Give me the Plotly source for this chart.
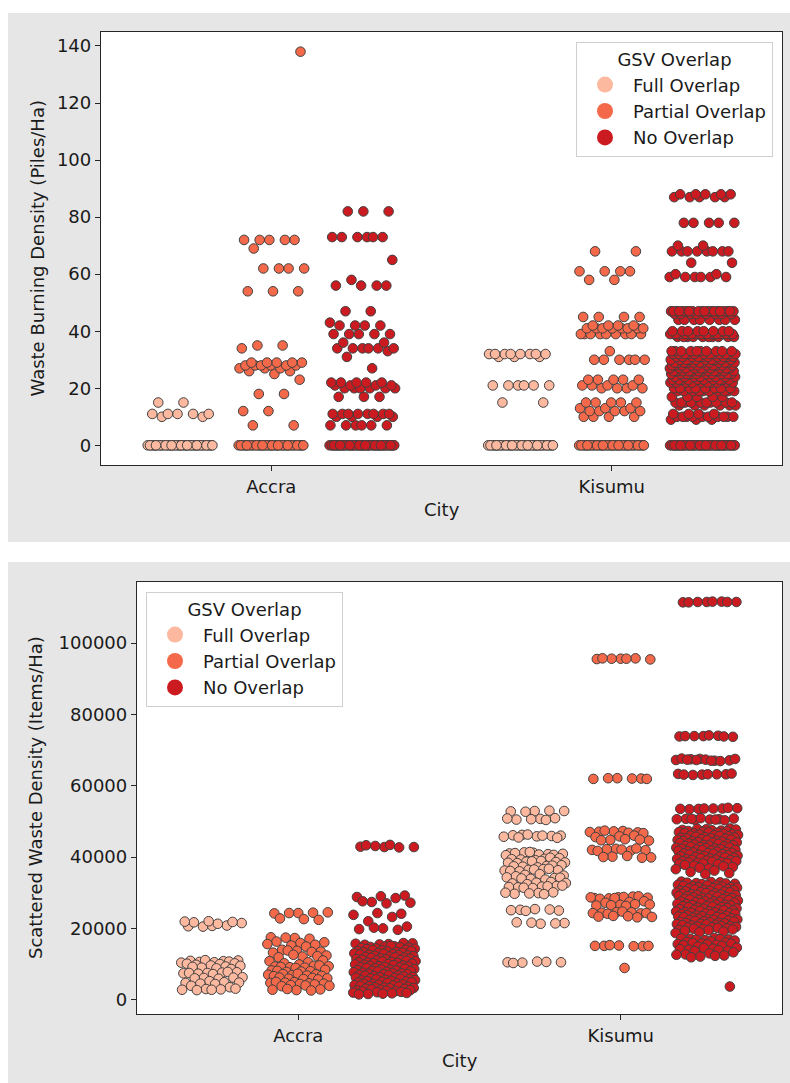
import plotly.graph_objects as go

# ---------------- data ----------------
CITIES = ["Accra", "Kisumu"]
GROUPS = ["Full Overlap", "Partial Overlap", "No Overlap"]
COLORS = ["#fcb9a0", "#f4694a", "#cb1b20"]

# Panel 1: Waste Burning Density (Piles/Ha)
ACCRA_FULL_BURN = [
    0, 0, 0, 0, 0, 0, 0, 0, 0, 0, 0, 0, 0, 0, 0, 0, 0, 0, 0, 0,
    0, 0, 0, 0, 0, 0, 0, 0, 0, 0, 0, 0, 0, 0, 0, 0, 0, 0, 0, 0,
    10, 10, 11, 11, 11, 11, 11, 15, 15,
]
ACCRA_PARTIAL_BURN = [
    0, 0, 0, 0, 0, 0, 0, 0, 0, 0, 0, 0, 0, 0, 0, 0, 0, 0, 0, 0,
    0, 0, 0, 0, 0, 0, 0, 0, 0, 0, 0, 0, 0, 0, 0, 0, 0, 0, 0, 0,
    7, 7, 12, 12, 18, 18, 23, 25, 26, 26, 27, 27, 27,
    28, 28, 28, 28, 28, 28, 29, 29, 29, 29, 29, 34, 35, 35,
    54, 54, 54, 62, 62, 62, 62, 69, 72, 72, 72, 72, 72, 138,
]
ACCRA_NO_BURN = [
    0, 0, 0, 0, 0, 0, 0, 0, 0, 0, 0, 0, 0, 0, 0, 0, 0, 0, 0, 0,
    0, 0, 0, 0, 0, 0, 0, 0, 0, 0, 0, 0, 0, 0, 0, 0, 0, 0, 0, 0,
    0, 0, 0, 0, 0, 0, 0, 0, 0, 0,
    7, 7, 7, 7, 7, 7, 10, 10, 10, 10, 11, 11, 11, 11, 11, 11, 11, 11,
    17, 17, 17, 20, 20, 20, 20, 20, 20, 21, 21, 21, 21, 22, 22, 22, 22, 22,
    27, 31, 33, 34, 34, 34, 34, 34, 34, 36, 36, 39, 39, 39, 39, 39,
    42, 42, 42, 42, 43, 47, 47, 56, 56, 56, 56, 58, 65,
    73, 73, 73, 73, 73, 73, 82, 82, 82,
]
KISUMU_FULL_BURN = [
    0, 0, 0, 0, 0, 0, 0, 0, 0, 0, 0, 0, 0, 0, 0, 0, 0, 0, 0, 0,
    0, 0, 0, 0, 0, 0, 0, 0, 0, 0, 0, 0, 0, 0, 0, 0, 0, 0, 0, 0,
    15, 15, 21, 21, 21, 21, 21, 21, 31, 31, 31,
    32, 32, 32, 32, 32, 32, 32, 32,
]
KISUMU_PARTIAL_BURN = [
    0, 0, 0, 0, 0, 0, 0, 0, 0, 0, 0, 0, 0, 0, 0, 0, 0, 0, 0, 0,
    0, 0, 0, 0, 0, 0, 0, 0, 0, 0, 0, 0, 0, 0, 0, 0, 0, 0, 0, 0,
    10, 10, 10, 10, 12, 12, 12, 12, 12, 13, 13, 13, 15, 15, 15, 15, 15,
    20, 20, 20, 20, 21, 21, 21, 21, 23, 23, 23, 23, 23,
    30, 30, 30, 30, 30, 30, 33,
    39, 39, 39, 39, 39, 39, 39, 39, 39, 41, 41, 41, 41, 41, 41, 41, 41,
    42, 42, 42, 42, 45, 45, 45, 45, 58, 58, 61, 61, 61, 61, 68, 68,
]
KISUMU_NO_BURN = [
    0, 0, 0, 0, 0, 0, 0, 0, 0, 0, 0, 0, 0, 0, 0, 0, 0, 0, 0, 0,
    0, 0, 0, 0, 0, 0, 0, 0, 0, 0, 0, 0, 0, 0, 0, 0, 0, 0, 0, 0,
    0, 0, 0, 0, 0, 0, 0, 0, 0, 0,
    9, 9, 9, 10, 10, 10, 10, 10, 10, 10, 10, 10, 10, 11, 11, 11, 11,
    14, 14, 14, 14, 14, 14, 15, 15, 15, 15, 15, 15, 15, 15, 15, 15,
    17, 17, 17, 17, 17, 19, 19, 19, 19, 19, 19, 19, 19, 19, 19,
    20, 20, 20, 20, 20, 20, 20, 20, 22, 22, 22, 22, 22, 22, 22, 22, 22, 22,
    23, 23, 23, 23, 23, 23, 23, 23, 23, 23, 24, 24, 24, 24, 24, 24, 24, 24,
    25, 25, 25, 25, 25, 25, 25, 25, 25, 25,
    26, 26, 26, 26, 26, 26, 26, 26, 26, 26, 26, 26,
    27, 27, 27, 27, 27, 27, 27, 27, 27, 27, 28, 28, 28, 28, 28, 28, 28, 28, 28, 28,
    29, 29, 29, 29, 29, 29, 29, 29, 29, 29, 29, 29,
    30, 30, 30, 30, 30, 30, 30, 30, 30, 30, 31, 31, 31, 31, 31, 31, 31, 31, 31, 31,
    32, 32, 32, 32, 32, 32, 32, 32, 32, 32, 32, 32,
    33, 33, 33, 33, 33, 33, 33, 33, 33, 33,
    38, 38, 38, 38, 38, 38, 38, 38, 38, 38,
    39, 39, 39, 39, 39, 39, 39, 39, 39, 39, 39, 39, 39, 39, 39, 39, 39, 39, 39, 39,
    40, 40, 40, 40, 40, 40, 40, 40, 44, 44, 44, 44, 44, 44, 44, 44,
    46, 46, 46, 46, 46, 46, 46, 46,
    47, 47, 47, 47, 47, 47, 47, 47, 47, 47, 47, 47, 47, 47, 47, 47, 47, 47, 47, 47,
    59, 59, 59, 59, 59, 59, 60, 60, 64, 64,
    68, 68, 68, 68, 68, 68, 68, 68, 70, 70, 78, 78, 78, 78, 78,
    87, 87, 87, 87, 87, 88, 88, 88, 88, 88,
]

# Panel 2: Scattered Waste Density (Items/Ha)
ACCRA_FULL_SCAT = [
    20700, 20600, 20800, 20500, 21500, 21300, 21700, 21800, 22000, 21900,
    10800, 10600, 11000, 10500, 10900, 10700, 11100, 10400,
    10000, 9800, 10200, 9600, 10100, 9300, 9000, 9500, 8800, 9200, 8600,
    7500, 7400, 7600, 7300, 7700, 7200, 7500, 7800,
    6100, 6300, 5900, 6000, 6200, 5200, 4700, 4900, 4500, 4800, 4400,
    3900, 3500, 3000, 2800, 2900, 2700, 3100, 2800,
]
ACCRA_PARTIAL_SCAT = [
    24300, 24200, 24400, 24300, 24500, 22600, 22800, 22400,
    17300, 17500, 17100, 17400, 16100, 15900, 16300,
    15400, 15200, 15600, 14900, 14000, 13500, 13700, 13200, 13400, 13800,
    12400, 12100, 11900, 12200, 12600, 10800, 10500, 10200, 11000, 9900,
    9300, 9500, 9100, 9400, 9000, 9200, 9600, 8900,
    8200, 8000, 7800, 8400, 7900, 8100,
    7100, 6900, 7000, 6800, 7200, 6700, 7300, 6600,
    6100, 5900, 6000, 5800, 6200, 5700,
    4900, 4700, 4600, 4800, 4500, 4400, 5000, 4300,
    4100, 3900, 4000, 3800, 2900, 2700, 2800, 2600, 3000,
]
ACCRA_NO_SCAT = [
    42800, 42900, 42700, 43100, 42800, 43400, 43300,
    29200, 29000, 28800, 28500, 27400, 27200, 27000, 27600,
    24100, 24300, 23800, 23200, 22000, 20500, 20000, 19800, 19600, 20200,
    15800, 15600, 15400, 15900, 15500, 15700,
    15000, 14800, 14600, 14900, 14500, 14700, 14400, 14300, 15100, 14200,
    14000, 13800, 13600, 13400, 13900, 13700, 13500, 13300, 13200, 13100,
    13000, 12800, 12600, 12400, 12900, 12700, 12500, 12300, 12200, 12100,
    12000, 11800, 11600, 11400, 11900, 11700, 11500, 11300, 11200, 11100,
    11000, 10800, 10600, 10400, 10900, 10700, 10500, 10300, 10200, 10100,
    10000, 9800, 9600, 9400, 9900, 9700, 9500, 9300, 9200, 9100,
    9000, 8800, 8600, 8400, 8900, 8700, 8500, 8300, 8200, 8100,
    8000, 7800, 7600, 7400, 7900, 7700, 7500, 7300, 7200, 7100,
    7000, 6800, 6600, 6400, 6900, 6700, 6500, 6300, 6200, 6100,
    6000, 5800, 5600, 5400, 5900, 5700, 5500, 5300, 5200, 5100,
    5000, 4800, 4600, 4400, 4900, 4700, 4500, 4300, 4200, 4100,
    4000, 3800, 3600, 3400, 3900, 3700, 3500, 3300, 3200, 3100,
    3000, 2800, 2600, 2400, 2900, 2700, 2500, 2300, 2200, 2100,
    2000, 1800, 1600, 1900, 1700, 1500,
]
KISUMU_FULL_SCAT = [
    52900, 52800, 53000, 52700, 52900,
    50700, 50500, 50900, 50600, 50800, 50400,
    46200, 46000, 45800, 46100, 45900, 46300, 45700, 46000, 45500, 45400,
    41200, 41000, 40800, 41300, 40900, 40700, 41100, 40600, 41400, 40500,
    39500, 39300, 39700, 39100, 39400, 39800,
    38700, 38500, 38900, 38300, 38600, 38800, 38400,
    37500, 37300, 37700, 37100, 37400, 37600,
    36400, 36200, 36600, 36000, 36300, 36500, 36100, 36700,
    35000, 34800, 35200, 34600, 34100, 33900, 34300, 33700, 34000, 34200,
    32800, 32600, 33000, 32400, 32700,
    31700, 31500, 31900, 31300, 31600, 31800, 31400, 32000,
    29900, 29700, 30100, 29800, 30000, 29600,
    25200, 25000, 25400, 25100, 25300, 24900,
    21500, 21300, 21700, 21400, 21600,
    10500, 10600, 10400, 10500, 10700, 10300,
]
KISUMU_PARTIAL_SCAT = [
    95600, 95500, 95700, 95600, 95400, 95600, 95700,
    62000, 62100, 61900, 62000, 62100, 61900,
    47300, 47100, 46900, 47200, 47000, 46800, 47400, 46700,
    45800, 45600, 46000, 44800, 44600, 45000, 44700, 44900,
    42300, 42000, 41800, 42200, 41900, 42100, 41700, 42400,
    40100, 39900, 40300, 40000, 39800,
    28700, 28500, 28900, 28400, 28600, 28800, 28300, 29000, 28500, 28700,
    27400, 27200, 27600, 26600, 26400, 26800, 26500, 26700, 26300,
    24400, 24200, 24600, 24300, 24500, 24100, 24300, 24700,
    23300, 23100, 23500, 23200, 23400,
    15100, 15000, 15200, 15100, 15000, 15300, 15100,
    8900,
]
KISUMU_NO_SCAT = [
    111500, 111400, 111600, 111500, 111500, 111600, 111400, 111500,
    73900, 73800, 74000, 73900, 73700, 74100, 73900, 73800,
    67500, 67200, 67000, 67400, 67100, 67300, 67600, 66900, 67200, 67500, 67000, 67300,
    63200, 63100, 63300, 63200, 63000, 63400, 63200, 63100,
    53600, 53500, 53700, 53600, 53400, 53800, 53600, 53500,
    50600, 50400, 50800, 50500, 50700, 50300, 50900, 50600, 50500, 50700,
    48000, 47800, 47600, 47400, 47900, 47700, 47500, 47300, 47200, 47100,
    47000, 46800, 46600, 46400, 46900, 46700, 46500, 46300, 46200, 46100,
    46000, 45800, 45600, 45400, 45900, 45700, 45500, 45300, 45200, 45100,
    45000, 44800, 44600, 44400, 44900, 44700, 44500, 44300, 44200, 44100,
    44000, 43800, 43600, 43400, 43900, 43700, 43500, 43300, 43200, 43100,
    43000, 42800, 42600, 42400, 42900, 42700, 42500, 42300, 42200, 42100,
    42000, 41800, 41600, 41400, 41900, 41700, 41500, 41300, 41200, 41100,
    41000, 40800, 40600, 40400, 40900, 40700, 40500, 40300, 40200, 40100,
    40000, 39800, 39600, 39400, 39900, 39700, 39500, 39300, 39200, 39100,
    39000, 38800, 38600, 38400, 38900, 38700, 38500, 38300, 38200, 38100,
    38000, 37600, 37200, 36800, 37800, 37400, 37000, 36600, 36200, 35800,
    35500, 35200,
    33100, 32900, 32700, 32500, 33000, 32800, 32600, 32400,
    32200, 32000, 31800, 31600, 32100, 31900, 31700, 31500, 31400, 31300,
    31200, 31000, 30800, 30600, 31100, 30900, 30700, 30500, 30400, 30300,
    30200, 30000, 29800, 29600, 30100, 29900, 29700, 29500, 29400, 29300,
    29200, 29000, 28800, 28600, 29100, 28900, 28700, 28500, 28400, 28300,
    28200, 28000, 27800, 27600, 28100, 27900, 27700, 27500, 27400, 27300,
    27200, 27000, 26800, 26600, 27100, 26900, 26700, 26500, 26400, 26300,
    26200, 26000, 25800, 25600, 26100, 25900, 25700, 25500, 25400, 25300,
    25200, 25000, 24800, 24600, 25100, 24900, 24700, 24500, 24400, 24300,
    24200, 24000, 23800, 23600, 24100, 23900, 23700, 23500, 23400, 23300,
    23200, 23000, 22800, 22600, 23100, 22900, 22700, 22500, 22400, 22300,
    22200, 22000, 21800, 21600, 22100, 21900, 21700, 21500, 21400, 21300,
    21200, 21000, 20800, 20600, 21100, 20900, 20700, 20500, 20400, 20300,
    20200, 20000, 19800, 19600, 20100, 19900, 19700, 19500, 19300, 19100,
    18900, 18700,
    17300, 17100, 16900, 16700, 17200, 17000, 16800, 16600, 16400, 16200,
    16000, 15800, 15600, 15400, 15900, 15700, 15500, 15300, 15100, 14900,
    14600, 14300, 14000, 13700, 14500, 14200, 13900, 13600, 13300, 13000,
    12700, 12400, 12100, 12600, 12300, 11900,
    3700,
]

BURN = [[ACCRA_FULL_BURN, ACCRA_PARTIAL_BURN, ACCRA_NO_BURN],
        [KISUMU_FULL_BURN, KISUMU_PARTIAL_BURN, KISUMU_NO_BURN]]
SCAT = [[ACCRA_FULL_SCAT, ACCRA_PARTIAL_SCAT, ACCRA_NO_SCAT],
        [KISUMU_FULL_SCAT, KISUMU_PARTIAL_SCAT, KISUMU_NO_SCAT]]

# ---------------- layout constants ----------------
W, H = 790, 1083
FONT = "DejaVu Sans"
FS = 18
INK = "#1a1a1a"
DODGE = [-0.267, 0.0, 0.267]   # hue offsets (seaborn-style dodge)
JIT = 0.097                     # half-width of strip jitter


def px_x(p):
    return p / W


def px_y(p):
    return 1 - p / H


def jitter(n):
    # deterministic low-discrepancy spread (golden ratio sequence)
    return [((i * 0.6180339887 + 0.5) % 1.0 - 0.5) * 2 * JIT for i in range(n)]


fig = go.Figure()


def add_panel(data, xa, ya, legend_name):
    for ci, city in enumerate(CITIES):
        for gi, grp in enumerate(GROUPS):
            vals = data[ci][gi]
            offs = jitter(len(vals))
            xs = [ci + DODGE[gi] + o for o in offs]
            fig.add_trace(go.Scatter(
                x=xs, y=vals, mode="markers", xaxis=xa, yaxis=ya,
                marker=dict(size=9.6, color=COLORS[gi],
                            line=dict(color="#404040", width=1)),
                showlegend=False, hoverinfo="skip", name=grp,
            ))
    for gi, grp in enumerate(GROUPS):
        fig.add_trace(go.Scatter(
            x=[None], y=[None], mode="markers", xaxis=xa, yaxis=ya,
            marker=dict(size=16, color=COLORS[gi], line=dict(width=0)),
            name=grp, legend=legend_name, legendgroup=legend_name + grp,
            showlegend=True,
        ))


add_panel(BURN, "x", "y", "legend")
add_panel(SCAT, "x2", "y2", "legend2")

axis_common = dict(
    showline=True, mirror=True, linecolor="#262626", linewidth=1.3,
    ticks="outside", ticklen=5, tickwidth=1.2, tickcolor="#262626",
    showgrid=False, zeroline=False,
    tickfont=dict(family=FONT, size=FS, color=INK),
)

P1 = dict(l=101, r=782, t=32, b=465)
P2 = dict(l=137, r=782, t=582, b=1014)

legend_common = dict(
    bgcolor="white", bordercolor="#cfcfcf", borderwidth=1,
    font=dict(family=FONT, size=FS, color=INK),
    title=dict(text="GSV Overlap", side="top center",
               font=dict(family=FONT, size=FS, color=INK)),
    itemwidth=46, tracegroupgap=0,
)

fig.update_layout(
    width=W, height=H,
    margin=dict(l=0, r=0, t=0, b=0),
    paper_bgcolor="white", plot_bgcolor="white",
    font=dict(family=FONT, size=FS, color=INK),
    xaxis=dict(domain=[px_x(P1["l"]), px_x(P1["r"])], range=[-0.5, 1.5],
               tickvals=[0, 1], ticktext=CITIES, anchor="y", **axis_common),
    yaxis=dict(domain=[px_y(P1["b"]), px_y(P1["t"])], range=[-6.9, 144.9],
               tick0=0, dtick=20, anchor="x", **axis_common),
    xaxis2=dict(domain=[px_x(P2["l"]), px_x(P2["r"])], range=[-0.5, 1.5],
                tickvals=[0, 1], ticktext=CITIES, anchor="y2", **axis_common),
    yaxis2=dict(domain=[px_y(P2["b"]), px_y(P2["t"])], range=[-4000, 117100],
                tick0=0, dtick=20000, tickformat="d", anchor="x2", **axis_common),
    legend=dict(x=px_x(773), y=px_y(42), xanchor="right", yanchor="top",
                **legend_common),
    legend2=dict(x=px_x(146), y=px_y(592), xanchor="left", yanchor="top",
                 **legend_common),
    shapes=[
        dict(type="rect", xref="paper", yref="paper", layer="below",
             x0=px_x(8), x1=1, y0=px_y(542), y1=px_y(13),
             fillcolor="#e6e6e6", line=dict(width=0)),
        dict(type="rect", xref="paper", yref="paper", layer="below",
             x0=px_x(8), x1=1, y0=0, y1=px_y(562),
             fillcolor="#e6e6e6", line=dict(width=0)),
        dict(type="rect", xref="paper", yref="paper", layer="below",
             x0=px_x(P1["l"]), x1=px_x(P1["r"]), y0=px_y(P1["b"]), y1=px_y(P1["t"]),
             fillcolor="white", line=dict(width=0)),
        dict(type="rect", xref="paper", yref="paper", layer="below",
             x0=px_x(P2["l"]), x1=px_x(P2["r"]), y0=px_y(P2["b"]), y1=px_y(P2["t"]),
             fillcolor="white", line=dict(width=0)),
    ],
    annotations=[
        dict(text="Waste Burning Density (Piles/Ha)", xref="paper", yref="paper",
             x=px_x(37), y=px_y((P1["t"] + P1["b"]) / 2), textangle=-90,
             showarrow=False, xanchor="center", yanchor="middle",
             font=dict(family=FONT, size=FS, color=INK)),
        dict(text="City", xref="paper", yref="paper",
             x=px_x((P1["l"] + P1["r"]) / 2), y=px_y(510),
             showarrow=False, xanchor="center", yanchor="middle",
             font=dict(family=FONT, size=FS, color=INK)),
        dict(text="Scattered Waste Density (Items/Ha)", xref="paper", yref="paper",
             x=px_x(35), y=px_y((P2["t"] + P2["b"]) / 2), textangle=-90,
             showarrow=False, xanchor="center", yanchor="middle",
             font=dict(family=FONT, size=FS, color=INK)),
        dict(text="City", xref="paper", yref="paper",
             x=px_x((P2["l"] + P2["r"]) / 2), y=px_y(1060),
             showarrow=False, xanchor="center", yanchor="middle",
             font=dict(family=FONT, size=FS, color=INK)),
    ],
)

fig.write_html(
    "out.html",
    config={"displayModeBar": False},
    post_script="document.body.style.margin='0';document.body.style.overflow='hidden';",
)
